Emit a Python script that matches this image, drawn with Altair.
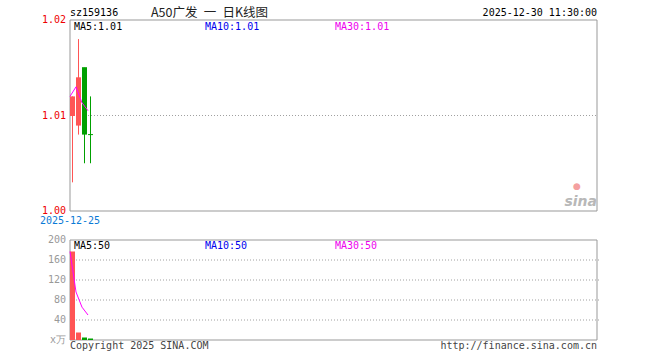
import altair as alt
import pandas as pd

# ---- data ----
candle_idx = [0, 1, 2, 3]
opens = [1.010, 1.009, 1.015, 1.008]
closes = [1.012, 1.014, 1.008, 1.008]
highs = [1.012, 1.018, 1.015, 1.012]
lows = [1.003, 1.008, 1.005, 1.005]
directions = ["up", "up", "down", "down"]
volumes = [177, 15, 5, 3]
price_ticks = [1.00, 1.01, 1.02]
price_tick_labels = ["1.00", "1.01", "1.02"]
price_grid = [1.01]
vol_ticks = [200, 160, 120, 80, 40, 0]
vol_tick_labels = ["200", "160", "120", "80", "40", "x万"]
vol_grid = [160, 120, 80, 40]
first_date = "2025-12-25"

# ---- layout constants ----
PLOT_W = 527
PLOT_H = 320
SLOT = 6.0
XMAX = PLOT_W / SLOT
BODY = 5.0 / SLOT
WICK = 2.5 / SLOT
UP = "#ff5555"
DOWN = "#00a000"
MONO = "DejaVu Sans Mono"
GRID = "#a0a0a0"
FRAME = "#999999"

xs = alt.Scale(domain=[0, XMAX], nice=False, zero=False)
ps = alt.Scale(domain=[1.00, 1.02], range=[191, 0], nice=False, zero=False)
vs = alt.Scale(domain=[0, 200], range=[320, 220], nice=False, zero=False)
col = alt.Scale(domain=["up", "down"], range=[UP, DOWN])

cdf = pd.DataFrame({
    "i": candle_idx, "open": opens, "close": closes, "high": highs,
    "low": lows, "dir": directions, "vol": volumes,
})
cdf["x0"] = cdf["i"]
cdf["x1"] = cdf["i"] + BODY
cdf["xw"] = cdf["i"] + WICK

# ---------------- price panel ----------------
frame_p = alt.Chart(pd.DataFrame({"a": [0], "b": [XMAX], "lo": [1.00], "hi": [1.02]})).mark_rect(
    fill=None, stroke=FRAME, strokeWidth=1
).encode(
    x=alt.X("a:Q", scale=xs, axis=None), x2="b:Q",
    y=alt.Y("lo:Q", scale=ps, axis=None), y2="hi:Q",
)
grid_p = alt.Chart(pd.DataFrame({"g": price_grid, "a": [0], "b": [XMAX]})).mark_rule(
    color=GRID, strokeDash=[1, 2], strokeWidth=1
).encode(
    x=alt.X("a:Q", scale=xs, axis=None), x2="b:Q",
    y=alt.Y("g:Q", scale=ps, axis=None),
)
base = alt.Chart(cdf)
wicks = base.mark_rule(strokeWidth=1).encode(
    x=alt.X("xw:Q", scale=xs, axis=None),
    y=alt.Y("low:Q", scale=ps, axis=None), y2="high:Q",
    color=alt.Color("dir:N", scale=col, legend=None),
)
bodies = base.mark_rect().encode(
    x=alt.X("x0:Q", scale=xs, axis=None), x2="x1:Q",
    y=alt.Y("open:Q", scale=ps, axis=None), y2="close:Q",
    color=alt.Color("dir:N", scale=col, legend=None),
)
ticks = base.mark_rule(strokeWidth=1).encode(
    x=alt.X("x0:Q", scale=xs, axis=None), x2="x1:Q",
    y=alt.Y("open:Q", scale=ps, axis=None),
    color=alt.Color("dir:N", scale=col, legend=None),
)
ma_p = base.transform_window(
    ma="mean(close)", frame=[-4, 0], sort=[alt.SortField("i")]
).mark_line(color="#ff00ff", strokeWidth=1).encode(
    x=alt.X("x0:Q", scale=xs, axis=None),
    y=alt.Y("ma:Q", scale=ps, axis=None),
)
plabels = alt.Chart(pd.DataFrame({"p": price_ticks, "t": price_tick_labels})).mark_text(
    align="right", baseline="middle", font=MONO, fontSize=10, color="#ee0000"
).encode(
    x=alt.value(-4), y=alt.Y("p:Q", scale=ps, axis=None), text="t:N",
)
date_lbl = alt.Chart(pd.DataFrame({"i": [0], "p": [1.00], "t": [first_date]})).mark_text(
    align="center", baseline="middle", font=MONO, fontSize=10, color="#0a7ad6", dy=10
).encode(
    x=alt.X("i:Q", scale=xs, axis=None), y=alt.Y("p:Q", scale=ps, axis=None), text="t:N",
)
price = alt.layer(grid_p, frame_p, wicks, bodies, ticks, ma_p, plabels, date_lbl)

# ---------------- volume panel ----------------
frame_v = alt.Chart(pd.DataFrame({"a": [0], "b": [XMAX], "lo": [0], "hi": [200]})).mark_rect(
    fill=None, stroke=FRAME, strokeWidth=1
).encode(
    x=alt.X("a:Q", scale=xs, axis=None), x2="b:Q",
    y=alt.Y("lo:Q", scale=vs, axis=None), y2="hi:Q",
)
grid_v = alt.Chart(pd.DataFrame({"g": vol_grid})).transform_calculate(
    a="0", b=str(XMAX + 0.4)
).mark_rule(color=GRID, strokeDash=[1, 2], strokeWidth=1).encode(
    x=alt.X("a:Q", scale=xs, axis=None), x2="b:Q",
    y=alt.Y("g:Q", scale=vs, axis=None),
)
vbars = base.transform_calculate(z="0").mark_rect().encode(
    x=alt.X("x0:Q", scale=xs, axis=None), x2="x1:Q",
    y=alt.Y("z:Q", scale=vs, axis=None), y2="vol:Q",
    color=alt.Color("dir:N", scale=col, legend=None),
)
ma_v = base.transform_window(
    mav="mean(vol)", frame=[-4, 0], sort=[alt.SortField("i")]
).mark_line(color="#ff00ff", strokeWidth=1).encode(
    x=alt.X("x0:Q", scale=xs, axis=None),
    y=alt.Y("mav:Q", scale=vs, axis=None),
)
vlabels = alt.Chart(pd.DataFrame({"v": vol_ticks, "t": vol_tick_labels})).mark_text(
    align="right", baseline="middle", font=MONO, fontSize=10, color="#999999"
).encode(
    x=alt.value(-4), y=alt.Y("v:Q", scale=vs, axis=None), text="t:N",
)
volume = alt.layer(grid_v, frame_v, vbars, ma_v, vlabels)


# ---------------- annotation texts ----------------
def txt(t, x, y, color="#000000", align="left", size=10, font=MONO, **kw):
    return alt.Chart(pd.DataFrame({"t": [t]})).mark_text(
        align=align, baseline="middle", font=font, fontSize=size, color=color, **kw
    ).encode(x=alt.value(x), y=alt.value(y), text="t:N")


annot = alt.layer(
    txt("sz159136", 0, -7),
    txt("A50广发\u2002一\u2002日K线图", 81, -7, font="Noto Sans CJK SC", size=12.5, color="#222222"),
    txt("2025-12-30 11:30:00", PLOT_W, -7, align="right"),
    txt("MA5:1.01", 4, 7),
    txt("MA10:1.01", 135, 7, color="#0000ee"),
    txt("MA30:1.01", 265, 7, color="#ee00ee"),
    txt("MA5:50", 4, 226),
    txt("MA10:50", 135, 226, color="#0000ee"),
    txt("MA30:50", 265, 226, color="#ee00ee"),
    txt("Copyright 2025 SINA.COM", 0, 326, color="#444444"),
    txt("http://finance.sina.com.cn", PLOT_W, 326, align="right", color="#444444"),
    txt("sina", PLOT_W, 182, align="right", size=14, font="DejaVu Sans",
        color="#b8b8b8", fontStyle="italic", fontWeight="bold"),
    txt("●", 507, 166, align="center", size=9, font="DejaVu Sans", color="#f4a0a0"),
)

chart = alt.layer(price, volume, annot).resolve_scale(y="independent").properties(
    width=PLOT_W, height=PLOT_H,
    padding={"left": 70, "top": 20, "right": 63, "bottom": 20},
    autosize=alt.AutoSizeParams(type="none"),
    background="white",
).configure_view(stroke=None)

chart.save("out.html", embed_options={"renderer": "svg", "actions": False})
